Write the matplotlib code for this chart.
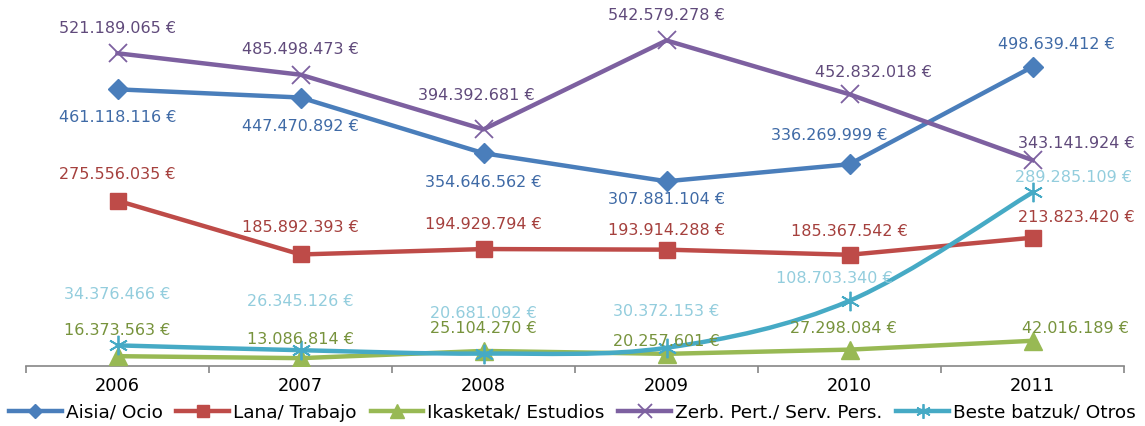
import numpy as np
import matplotlib
matplotlib.use("Agg")
import matplotlib.pyplot as plt
from matplotlib.path import Path
from matplotlib.patches import PathPatch

plt.rcParams['font.family'] = ['DejaVu Sans']

years = ["2006", "2007", "2008", "2009", "2010", "2011"]

aisia = [461118116, 447470892, 354646562, 307881104, 336269999, 498639412]
lana = [275556035, 185892393, 194929794, 193914288, 185367542, 213823420]
ikasketak = [16373563, 13086814, 25104270, 20257601, 27298084, 42016189]
zerb = [521189065, 485498473, 394392681, 542579278, 452832018, 343141924]
beste = [34376466, 26345126, 20681092, 30372153, 108703340, 289285109]

series_names = ["Aisia/ Ocio", "Lana/ Trabajo", "Ikasketak/ Estudios",
                "Zerb. Pert./ Serv. Pers.", "Beste batzuk/ Otros"]


def euro(v):
    return f"{v:,}".replace(",", ".") + " €"


# label offsets in pixels (dx, dy) for each point
off_aisia = [(0, -27), (0, -28), (0, -28), (0, -17), (-20, 30), (24, 23)]
off_lana = [(0, 27), (0, 28), (0, 26), (0, 20), (0, 24), (44, 21)]
off_ikas = [(0, 27), (0, 20), (0, 23), (0, 13), (-6, 22), (43, 13)]
off_zerb = [(0, 26), (0, 26), (-7, 35), (0, 26), (24, 23), (44, 18)]
off_beste = [(0, 52), (0, 50), (0, 41), (0, 37), (-15, 23), (41, 16)]

W, H = 1145, 427
fig = plt.figure(figsize=(W / 100, H / 100), dpi=100)
ax = fig.add_axes([26 / W, 60 / H, (1124 - 26) / W, 360 / H])

x = np.arange(len(years))


def smooth_path(xs, ys):
    # Catmull-Rom style cubic Bezier through the points
    px = list(xs)
    py = list(ys)
    verts = [(px[0], py[0])]
    codes = [Path.MOVETO]
    m = len(px)
    for i in range(m - 1):
        p0 = (px[max(i - 1, 0)], py[max(i - 1, 0)])
        p1 = (px[i], py[i])
        p2 = (px[i + 1], py[i + 1])
        p3 = (px[min(i + 2, m - 1)], py[min(i + 2, m - 1)])
        c1 = (p1[0] + (p2[0] - p0[0]) / 6, p1[1] + (p2[1] - p0[1]) / 6)
        c2 = (p2[0] - (p3[0] - p1[0]) / 6, p2[1] - (p3[1] - p1[1]) / 6)
        verts += [c1, c2, p2]
        codes += [Path.CURVE4] * 3
    return Path(verts, codes)


specs = [
    (aisia, "#4A7EBB", "#3F6AA6", "D", 10, 1.0, off_aisia, False),
    (lana, "#BE4B48", "#A5403D", "s", 11, 1.0, off_lana, False),
    (ikasketak, "#98B954", "#77933C", "^", 13, 1.0, off_ikas, False),
    (zerb, "#7D60A0", "#604A7B", "x", 13, 1.3, off_zerb, False),
    (beste, "#46AAC5", "#93CDDD", (6, 2, 0), 14, 1.3, off_beste, True),
]

handles = []
for (vals, col, lcol, mk, ms, mew, offs, smooth), name in zip(specs, series_names):
    if smooth:
        patch = PathPatch(smooth_path(x, vals), facecolor="none", edgecolor=col,
                          lw=3.2, capstyle="round", joinstyle="round", zorder=3)
        ax.add_patch(patch)
        ax.plot(x, vals, linestyle="none", marker=mk, ms=ms, color=col,
                mec=col, mew=mew, zorder=4)
        h, = ax.plot([], [], color=col, lw=3.2, marker=mk, ms=ms, mec=col, mew=mew)
    else:
        h, = ax.plot(x, vals, color=col, lw=3.2, marker=mk, ms=ms, mec=col,
                     mew=mew, solid_joinstyle="round", zorder=3)
    handles.append(h)
    for xi, v, (dx, dy) in zip(x, vals, offs):
        ax.annotate(euro(v), (xi, v), xytext=(dx, dy), textcoords="offset pixels",
                    ha="center", va="center", fontsize=11.5, color=lcol, zorder=5)

ax.set_xlim(-0.5, 5.5)
ax.set_ylim(0, 600_000_000)
ax.set_yticks([])
for s in ["left", "right", "top"]:
    ax.spines[s].set_visible(False)
ax.spines["bottom"].set_color("#868686")
ax.spines["bottom"].set_linewidth(1.2)

ax.set_xticks(x)
ax.set_xticklabels(years, fontsize=12.8, color="black")
ax.tick_params(axis="x", which="major", length=0, pad=7)
ax.set_xticks(np.arange(-0.5, 6, 1.0), minor=True)
ax.tick_params(axis="x", which="minor", length=5, width=1.2, color="#868686")

fig.legend(handles, series_names, loc="center left", bbox_to_anchor=(9 / W, 14 / H),
           ncol=5, frameon=False, fontsize=13.3, handlelength=2.85,
           handletextpad=0.22, columnspacing=0.75, borderaxespad=0, borderpad=0,
           markerscale=0.75)

fig.savefig("out.png", dpi=100)
